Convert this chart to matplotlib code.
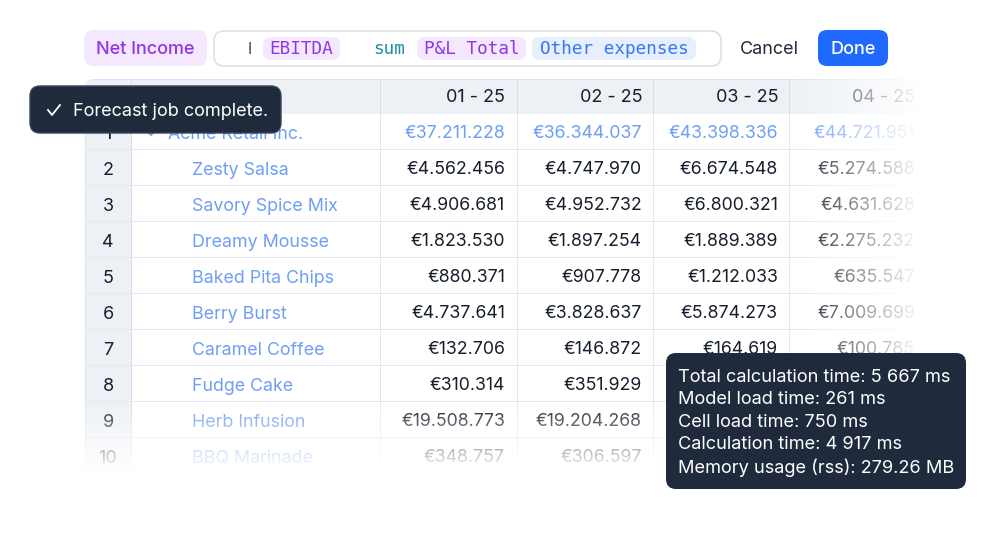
import matplotlib.pyplot as plt
import numpy as np
from matplotlib.patches import FancyBboxPatch, Rectangle

plt.rcParams['font.family'] = ['Inter', 'DejaVu Sans']

row_numbers = ['1', '2', '3', '4', '5', '6', '7', '8', '9', '10']
row_names = ['Acme Retail Inc.', 'Zesty Salsa', 'Savory Spice Mix', 'Dreamy Mousse', 'Baked Pita Chips',
             'Berry Burst', 'Caramel Coffee', 'Fudge Cake', 'Herb Infusion', 'BBQ Marinade']
col_labels = ['01 - 25', '02 - 25', '03 - 25', '04 - 25']
col_01 = ['€37.211.228', '€4.562.456', '€4.906.681', '€1.823.530', '€880.371',
          '€4.737.641', '€132.706', '€310.314', '€19.508.773', '€348.757']
col_02 = ['€36.344.037', '€4.747.970', '€4.952.732', '€1.897.254', '€907.778',
          '€3.828.637', '€146.872', '€351.929', '€19.204.268', '€306.597']
col_03 = ['€43.398.336', '€6.674.548', '€6.800.321', '€1.889.389', '€1.212.033',
          '€5.874.273', '€164.619']
col_04 = ['€44.721.951', '€5.274.588', '€4.631.628', '€2.275.232', '€635.547',
          '€7.009.699', '€100.785']
tooltip_lines = ['Total calculation time: 5 667 ms', 'Model load time: 261 ms', 'Cell load time: 750 ms',
                 'Calculation time: 4 917 ms', 'Memory usage (rss): 279.26 MB']

NAVY = '#1F2B3D'
LINE = '#E3E8EF'
HEAD = '#EDF1F5'
LINK = '#6F9FF5'
PX = 0.72  # px to pt at dpi 100


def box(ax, x0, y0, x1, y1, r, fc, ec='none', lw=0, z=1):
    p = FancyBboxPatch((x0 + r, y0 + r), x1 - x0 - 2 * r, y1 - y0 - 2 * r,
                       boxstyle=f'round,pad={r},rounding_size={r}', fc=fc, ec=ec, lw=lw, zorder=z)
    ax.add_patch(p)
    return p


fig = plt.figure(figsize=(9.96, 5.34), dpi=100)
ax = fig.add_axes([0, 0, 1, 1])
ax.set_xlim(0, 996)
ax.set_ylim(534, 0)
ax.axis('off')

# top formula bar
box(ax, 84, 30, 207, 66, 10, '#F3E8FD')
ax.text(145.5, 49.5, 'Net Income', color='#9333EA', fontsize=18 * PX, ha='center', va='center', fontweight='medium')
box(ax, 214, 31, 721, 66, 10, 'white', ec='#D6DFEC', lw=1.1)
ax.text(249.5, 49, 'I', color='#334155', fontsize=16 * PX, ha='center', va='center')
mono = ['DejaVu Sans Mono']
for x0, x1, fc, label, tc in [(263, 340, '#F3E8FD', 'EBITDA', '#9333EA'),
                              (417, 526, '#F3E8FD', 'P&L Total', '#9333EA'),
                              (532, 696, '#E7EEFD', 'Other expenses', '#3478F6')]:
    box(ax, x0, 37, x1, 60, 8, fc)
    ax.text((x0 + x1) / 2, 49, label, color=tc, fontsize=17.6 * PX, ha='center', va='center', family=mono)
ax.text(389.5, 49, 'sum', color='#1C8FA8', fontsize=17.6 * PX, ha='center', va='center', family=mono)
ax.text(769.5, 49.5, 'Cancel', color='#1E293B', fontsize=18 * PX, ha='center', va='center')
box(ax, 818, 30, 888, 66, 9, '#1F69FF')
ax.text(853, 49.5, 'Done', color='white', fontsize=18 * PX, ha='center', va='center', fontweight='medium')

# table background
col_edges = [380, 517, 653, 789]
col_right = [505, 642, 778, 915]
row_h = 36
first_row = 133
box(ax, 85, 79, 935, 500, 8, HEAD, z=0.5)
ax.add_patch(Rectangle((131, 114), 820, 400, fc='white', zorder=0.6))
ax.add_patch(Rectangle((93, 79), 842, 1, fc='#DCE3EB', zorder=0.7))
ax.add_patch(Rectangle((85, 87), 1, 413, fc='#DCE3EB', zorder=0.7))
ax.add_patch(Rectangle((131, 80), 1, 420, fc='#D8E0E9', zorder=0.7))
for x in col_edges:
    ax.add_patch(Rectangle((x, 80), 1, 34, fc='#D5DDE6', zorder=0.7))
    ax.add_patch(Rectangle((x, 114), 1, 386, fc=LINE, zorder=0.7))
for i in range(1, len(row_names) + 1):
    y = first_row + 16 + (i - 1) * row_h
    ax.add_patch(Rectangle((85, y), 850, 1, fc=LINE, zorder=0.7))

# headers
for x, label in zip(col_right, col_labels):
    ax.text(x, 97.5, label, color='#171E2B', fontsize=18 * PX, ha='right', va='center', zorder=2)

# rows
for i, (num, name) in enumerate(zip(row_numbers, row_names)):
    y = first_row + i * row_h
    ax.text(108, y + 1.5, num, color='#171E2B', fontsize=18 * PX, ha='center', va='center', zorder=2)
    ax.text(168 if i == 0 else 192, y + 1.5, name, color=LINK, fontsize=17.8 * PX, ha='left', va='center', zorder=2)
ax.plot([147, 151, 155], [131, 135, 131], color=LINK, lw=1.4, zorder=2)

for x, values in zip(col_right, [col_01, col_02, col_03, col_04]):
    for i, val in enumerate(values):
        ax.text(x, first_row + i * row_h + 1, val, color=LINK if i == 0 else '#171E2B',
                fontsize=17.7 * PX, ha='right', va='center', zorder=2)

# fade the table out to white at the right and at the bottom
fade_x = np.clip((np.arange(996) - 790) / 130, 0, 1)
fade_y = np.clip((np.arange(534) - 400) / 72, 0, 1)
alpha = 1 - (1 - fade_x[None, :]) * (1 - fade_y[:, None])
rgba = np.ones((534 - 70, 996, 4))
rgba[..., 3] = alpha[70:]
ax.imshow(rgba, extent=(0, 996, 534, 70), zorder=3, aspect='auto', interpolation='nearest')
ax.set_xlim(0, 996)
ax.set_ylim(534, 0)

# toast
box(ax, 30, 86, 281, 133, 10, NAVY, ec='#3A4657', lw=1, z=4)
ax.plot([48, 52, 60], [110, 115, 105], color='white', lw=1.3, zorder=5)
ax.text(73, 111.5, 'Forecast job complete.', color='white', fontsize=18.1 * PX, ha='left', va='center', zorder=5)

# timing tooltip
box(ax, 666, 353, 966, 489, 10, NAVY, z=4)
for i, line in enumerate(tooltip_lines):
    ax.text(678, 377 + i * 22.6, line, color='white', fontsize=18.2 * PX, ha='left', va='center', zorder=5)

fig.savefig('out.png', dpi=100)
